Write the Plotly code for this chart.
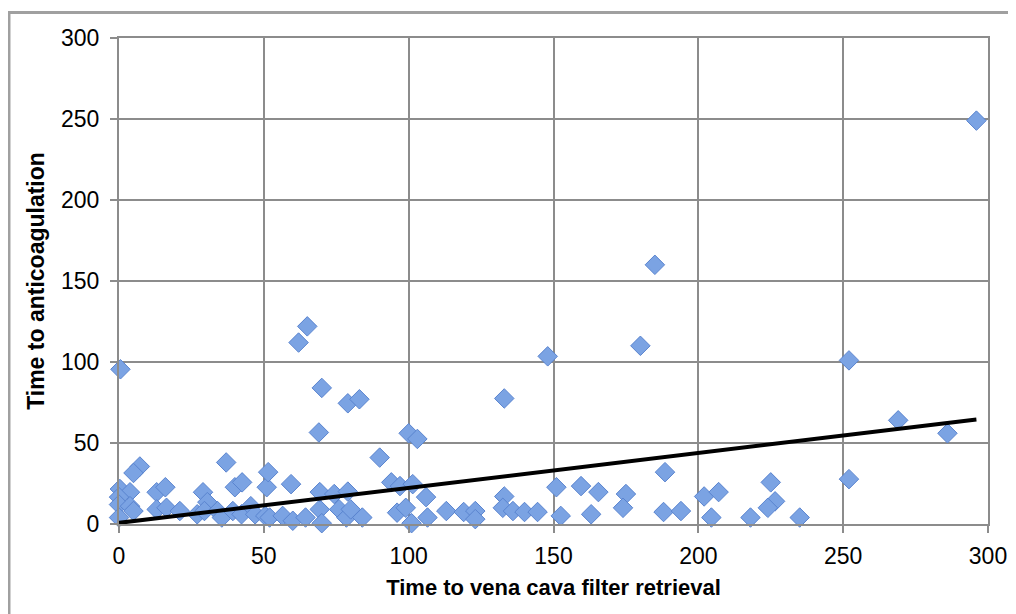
import plotly.graph_objects as go

# Scatter data: time to vena cava filter retrieval (x) vs time to anticoagulation (y)
filter_retrieval = [
    296, 185, 180, 148, 252, 0.5, 65, 62, 70, 79, 83, 133, 69, 100, 103, 90, 269, 286, 188.5, 252,
    7.2, 5, 37, 0.3, 3.8, 0, 0, 3.8, 0, 5, 13, 16, 13, 16.4, 21, 27, 29, 30.5, 29.5, 34,
    35.5, 40, 42.5, 39.3, 42.3, 45.5, 47, 50.5, 51, 51.5,
    52, 56.5, 60, 64.4, 69.3, 70, 76, 78.5, 80, 84, 96, 99, 101, 106.5,
    59.4, 69.3, 74.3, 79, 94, 97, 101.4, 106,
    113, 119, 123, 123, 133, 132.5, 136, 140, 144.5, 151, 159.5, 152.5, 163,
    165.5, 175, 174, 188, 194, 202, 207, 204.5, 218,
    225, 226.5, 224, 235,
]
anticoagulation = [
    249, 160, 110, 103.5, 101, 95.5, 122, 112, 84, 74.5, 77, 77.5, 56.5, 56, 52.5, 41, 64, 56, 32, 27.7,
    35.5, 31.5, 38, 21.6, 19.6, 16.6, 12, 11, 4, 8, 19.6, 22.7, 9, 10, 8, 6, 19.6, 13.5, 8, 8,
    4, 22.7, 25.7, 8, 6, 11, 6, 5, 22.7, 32,
    4, 5, 2, 4, 9, 0.5, 9, 4, 9, 4, 7, 10, 0.5, 4,
    24.6, 19.7, 18.5, 20, 25.7, 23.4, 24.6, 16.6,
    8, 7.4, 8, 3, 17, 10, 8, 7.4, 7.4, 22.7, 23.4, 5, 6,
    19.7, 18.5, 10, 7.4, 8, 17, 19.7, 4, 4,
    25.7, 14, 10, 4,
]

# Linear trendline coefficients
trend_slope = 0.2157
trend_intercept = 0.7

x_ticks = [0, 50, 100, 150, 200, 250, 300]
y_ticks = [0, 50, 100, 150, 200, 250, 300]
x_title = "Time to vena cava filter retrieval"
y_title = "Time to anticoagulation"

trend_x = [min(filter_retrieval), max(filter_retrieval)]
trend_y = [trend_intercept + trend_slope * v for v in trend_x]

fig = go.Figure()
fig.add_trace(go.Scatter(
    x=filter_retrieval, y=anticoagulation, mode="markers",
    marker=dict(symbol="diamond", size=15, color="#7BA3E3",
                line=dict(color="#5A84CF", width=1)),
    cliponaxis=False, showlegend=False,
))
fig.add_trace(go.Scatter(
    x=trend_x, y=trend_y, mode="lines",
    line=dict(color="black", width=4),
    showlegend=False, hoverinfo="skip",
))

grid_color = "#8C8C8C"
font_family = "Liberation Sans, Arial, sans-serif"

fig.update_layout(
    width=1016, height=614,
    margin=dict(l=111, r=36, t=30, b=98),
    paper_bgcolor="white", plot_bgcolor="white",
    font=dict(family=font_family, color="black"),
    xaxis=dict(
        range=[0, 300], tickvals=x_ticks, ticktext=[str(v) for v in x_ticks],
        showgrid=True, gridcolor=grid_color, gridwidth=2,
        showline=True, linecolor=grid_color, linewidth=2, mirror=True,
        ticks="outside", ticklen=7, tickwidth=2, tickcolor=grid_color,
        tickfont=dict(size=23, family=font_family), ticklabelstandoff=3,
        zeroline=False,
        title=dict(text="<b>" + x_title + "</b>", font=dict(size=22, family=font_family), standoff=12),
    ),
    yaxis=dict(
        range=[0, 300], tickvals=y_ticks, ticktext=[str(v) for v in y_ticks],
        showgrid=True, gridcolor=grid_color, gridwidth=2,
        showline=True, linecolor=grid_color, linewidth=2, mirror=True,
        ticks="outside", ticklen=7, tickwidth=2, tickcolor=grid_color,
        tickfont=dict(size=23, family=font_family), ticklabelstandoff=6,
        zeroline=False,
        title=dict(text="<b>" + y_title + "</b>", font=dict(size=23, family=font_family), standoff=10),
    ),
    shapes=[dict(
        type="rect", xref="paper", yref="paper",
        x0=-0.1266, x1=1.1, y0=-0.3, y1=1.0525,
        line=dict(color="#A0A0A0", width=3), fillcolor="rgba(0,0,0,0)", layer="below",
    )],
)

fig.write_html("out.html")
